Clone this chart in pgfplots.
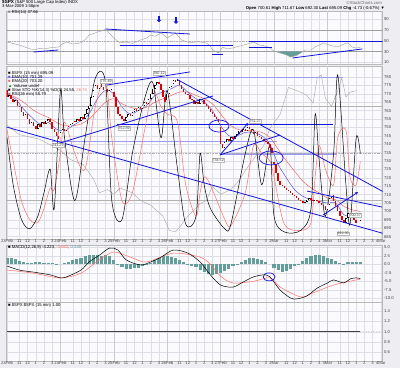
\documentclass[border=0pt]{standalone}
\usepackage{pgfplots}
\pgfplotsset{compat=1.18}
\usepackage{pgfplotstable}
\usepackage{fontspec}
\setmainfont{Liberation Sans}
\usetikzlibrary{arrows.meta}

\definecolor{panelbg}{RGB}{251,251,253}
\definecolor{outerbg}{RGB}{238,238,242}
\definecolor{gridc}{RGB}{222,222,230}
\definecolor{lav}{RGB}{155,155,245}
\definecolor{tblue}{RGB}{20,20,225}
\definecolor{candred}{RGB}{228,0,0}
\definecolor{emablue}{RGB}{90,90,210}
\definecolor{emared}{RGB}{240,100,100}
\definecolor{stored}{RGB}{255,110,110}
\definecolor{teal2}{RGB}{100,158,155}
\definecolor{lblc}{RGB}{70,70,70}

\newcommand{\tf}{\fontsize{4.2}{4.6}\selectfont}
\newcommand{\smf}{\fontsize{3.7}{4}\selectfont}

\pgfplotstableread{
b o c
0 772 768
1 768 769
2 769 767
3 767 765
4 765 766
5 766 763
6 763 762
7 762 759
8 759 757
9 757 758
10 758 755
11 755 752
12 752 753
13 753 751
14 751 749
15 749 752
16 752 750
17 750 753
18 753 752
19 752 754
20 754 755
21 755 753
22 753 749
23 749 747
24 747 745
25 745 743
26 744 747
27 747 749
28 749 748
29 748 751
30 751 750
31 750 752
32 752 754
33 754 753
34 753 755
35 755 754
36 754 756
37 756 755
38 755 758
39 758 761
40 761 763
41 763 768
42 768 772
43 772 775
44 775 773
45 773 776
46 776 774
47 774 772
48 772 773
49 773 771
50 771 772
51 772 773
52 771 768
53 768 762
54 762 758
55 758 757
56 757 755
57 755 754
58 754 756
59 756 758
60 758 757
61 757 759
62 759 761
63 761 760
64 760 762
65 762 761
66 761 763
67 763 765
68 765 764
69 764 767
70 767 770
71 770 773
72 773 775
73 775 777
74 777 776
75 776 772
76 772 768
77 768 765
78 766 770
79 770 774
80 774 776
81 776 778
82 778 777
83 777 778
84 778 775
85 775 773
86 773 771
87 771 770
88 770 769
89 769 767
90 767 766
91 766 764
92 764 765
93 765 764
94 764 767
95 767 766
96 766 764
97 764 763
98 763 761
99 761 759
100 759 758
101 758 756
102 756 755
103 755 753
104 750 740
105 740 738
106 738 741
107 741 743
108 743 742
109 742 744
110 744 743
111 743 745
112 745 746
113 746 748
114 748 747
115 747 749
116 749 748
117 748 750
118 750 749
119 749 747
120 747 746
121 746 747
122 747 745
123 745 744
124 744 743
125 743 742
126 742 741
127 741 740
128 740 738
129 738 735
130 729.5 728
131 728 723
132 723 718
133 718 716
134 716 715
135 715 714
136 714 713
137 713 712
138 712 711
139 711 710
140 710 709
141 709 708
142 708 707
143 707 706
144 706 705
145 705 705.5
146 705.5 707
147 707 708
148 708 707
149 707 706
150 706 707
151 707 706
152 706 705
153 705 704
154 704 703
155 703 701
156 700.8 704
157 704 708
158 708 710
159 710 706
160 706 703
161 703 700
162 700 697
163 697 695
164 695 693
165 693 696
166 696 699
167 699 698
168 698 697
169 697 695
170 695 693
171 693 694
172 694 695
}\price

\pgfplotstableread{
b v
0 769
4 767
8 761
12 756
16 752
20 753
24 749
28 748
32 751
36 754
40 758
44 767
48 772
52 770
56 762
60 758
64 760
68 763
72 769
76 771
80 773
84 775
88 771
92 767
96 765
100 760
104 751
108 745
112 745
116 747
120 747
124 745
128 740
132 728
136 720
140 713
144 709
148 707
152 706
156 705
160 705
164 698
168 697
172 697
}\emaA

\pgfplotstableread{
b v
0 770
4 768
8 765
12 761
16 758
20 756
24 753
28 751
32 751
36 752
40 755
44 760
48 765
52 767
56 764
60 762
64 761
68 762
72 765
76 767
80 769
84 771
88 771
92 769
96 767
100 764
104 758
108 752
112 749
116 748
120 748
124 747
128 744
132 737
136 730
140 724
144 718
148 714
152 711
156 708
160 707
164 703
168 701
172 700
}\emaB

\pgfplotstableread{
b v
0 60
3 30
7 8
11 2
15 10
18 25
21 40
23 15
26 90
28 60
33 20
38 60
43 98
48 95
51 20
56 8
61 50
67 85
71 95
75 60
78 90
83 40
87 5
92 10
94 50
96 30
99 15
106 2
109 5
116 50
120 65
124 30
128 55
130 10
135 0
143 1
148 15
150 75
152 45
155 10
159 50
161 100
165 30
167 5
170 60
172 50
}\stok

\pgfplotstableread{
b v
0 65
3 45
7 20
11 8
15 6
18 15
21 28
23 27
26 50
28 70
33 50
38 40
43 80
48 97
51 60
56 20
61 25
67 65
71 90
75 80
78 75
83 70
87 30
92 10
94 25
96 35
99 30
106 8
109 4
116 25
120 55
124 50
128 45
130 35
135 5
143 1
148 6
150 35
152 55
155 40
159 30
161 60
165 65
167 35
170 30
172 45
}\stod

\pgfplotstableread{
b v
0 68
6 62
16 59
26 52
31 46
37 43
42 34
45 25
49 27
52 24
55 28
61 25
65 20
70 17
76 10
79 1
82 0
84 3
88 10
91 14
94 18
97 20
100 29
104 24
109 27
113 33
118 43
125 55
128 66
133 75
137 92
143 89
146 87
149 82
151 98
153 100
155 85
158 80
161 90
163 98
165 86
167 89
170 90
}\grayl

\pgfplotstableread{
b v
0 47.7
3 45
6 42
9 38
13 33
16 36
18 35
21 37
25 38.5
27 44
29 47.7
32 44
36 46
38 52
40 60.6
42 63
44 66
46 68
48 71.6
50 63
52 55
54 49
55 46
58 47.7
61 45
65 51.4
68 55
70 60.6
72 58
75 64
77 59
78 55
80 60
82 64
84 56
85 51.4
87 49
89 46
92 48
94 47.7
97 46
99 40
100 33
103 27.5
105 38.5
107 35
110 36.7
113 40
115 42
118 45
120 47.7
123 42
126 40
128 36.7
130 31
133 27.5
136 24
138 20
141 23
143 27.5
145 33
148 33
150 38.5
152 42
154 46
157 42
159 40
161 38.5
164 44
166 46
168 38.5
170 36.7
172 37.7
}\rsi

\pgfplotstableread{
b v
0 -0.5
6 -1.7
13 -2.3
21 -3.1
26 -4.0
29 -3.7
36 -1.7
40 0.7
45 2.7
50 4.8
54 4.2
58 1.3
65 -0.2
70 0.7
75 2.1
81 4.2
88 3.3
94 0.7
99 -3.1
104 -6.1
110 -6.7
115 -5.2
120 -3.7
125 -3.1
128 -3.7
133 -7.6
138 -9.9
141 -10.2
146 -9.3
151 -7.0
156 -5.5
159 -4.6
164 -5.5
167 -4.3
170 -4.0
172 -4.2
}\macdk

\pgfplotstableread{
b v
0 -1.7
13 -2.6
26 -4.0
36 -2.6
45 1.3
52 3.6
61 1.9
68 0.7
81 3.3
94 2.1
99 0.0
104 -3.5
110 -5.5
120 -5.0
128 -4.0
133 -6.7
143 -9.6
149 -8.4
159 -6.1
170 -4.6
172 -4.56
}\macds

\pgfplotstableread{
b v
0 2.0
2 1.8
4 1.5
6 1.0
8 0.6
10 0.5
12 0.5
14 0.6
16 0.6
18 0.5
20 0.5
22 0.3
24 0.1
26 0.0
28 0.3
30 0.8
32 1.2
34 1.6
36 2.0
38 2.4
40 2.7
42 2.8
44 2.6
46 2.5
48 2.7
50 2.4
52 1.2
54 0.2
56 -0.8
58 -1.3
60 -1.4
62 -1.2
64 -1.0
66 -0.6
68 -0.1
70 0.5
72 1.2
74 1.8
76 2.3
78 2.5
80 2.2
82 1.8
84 1.2
86 0.7
88 0.2
90 -0.4
92 -0.9
94 -1.6
96 -2.3
98 -2.8
100 -3.0
102 -2.8
104 -2.5
106 -2.0
108 -1.4
110 -0.6
112 0.2
114 0.8
116 1.4
118 1.8
120 1.9
122 1.7
124 1.4
126 0.8
128 0.0
130 -1.0
132 -1.8
134 -2.2
136 -2.0
138 -1.4
140 -0.6
142 0.2
144 1.0
146 1.8
148 2.4
150 2.6
152 2.6
154 2.4
156 2.0
158 1.6
160 1.0
162 0.4
164 0.2
166 0.6
168 0.8
170 0.8
172 0.6
}\macdh

\pgfplotsset{
  base/.style={scale only axis, width=376.2pt, anchor=south west,
    xmin=-0.25, xmax=182.9, major tick length=0pt, tick style={draw=none}},
  frame/.style={base, axis line style={draw=gray!55, line width=0.4pt},
    xmajorgrids, ymajorgrids, major grid style={draw=gridc, line width=0.3pt},
    xtick={0,6,10,14,18,22,26,32,36,40,44,48,52,58,62,66,70,74,78,84,88,92,96,100,104,110,114,118,122,126,130,136,140,144,148,152,156,162,166,170,174,178,182},
    extra x ticks={26,52,78,104,130,156},
    extra x tick labels={},
    extra x tick style={major grid style={draw=gray!40, line width=0.35pt}},
    xticklabels={},
    yticklabel pos=right,
    yticklabel style={font=\tf, text=lblc, inner sep=1.2pt},
    xticklabel style={font=\tf, text=lblc, inner sep=0.6pt}},
  datelabels/.style={xticklabels={23Feb,11,12,1,2,3,24Feb,11,12,1,2,3,25Feb,11,12,1,2,3,26Feb,11,12,1,2,3,27Feb,11,12,1,2,3,2Mar,11,12,1,2,3,3Mar,11,12,1,2,3,4Mar}},
  ovl/.style={base, axis lines=none, xtick=\empty, ytick=\empty},
}

\begin{document}
\begin{tikzpicture}[x=1pt,y=1pt]
\fill[outerbg] (0,0) rectangle (400,368);
\path[use as bounding box] (0,0) rectangle (400,368);
\fill[panelbg] (6.5,303.5) rectangle (382.7,357);
\fill[panelbg] (6.5,129) rectangle (382.7,302);
\fill[panelbg] (6.5,66) rectangle (382.7,123);
\fill[panelbg] (6.5,7) rectangle (382.7,65.5);

% header
\node[anchor=west, inner sep=0, font=\tf] at (2,365.6) {{\fontsize{4.6}{5}\selectfont\bfseries \$SPX} (S\&P 500 Large Cap Index) INDX};
\node[anchor=west, inner sep=0, font=\tf] at (2,361.4) {3-Mar-2009 1:58pm};
\node[anchor=east, inner sep=0, font=\tf, text=gray!80!black] at (382,365.2) {\textcopyright StockCharts.com};
\node[anchor=east, inner sep=0, font=\tf] at (385,359.4) {\textbf{Open} 700.61 \textbf{High} 711.67 \textbf{Low} 692.30 \textbf{Last} 695.09 \textbf{Chg} -4.73 (-0.67\%) ▼};

% ---------------- RSI panel ----------------
\begin{axis}[frame, at={(6.5pt,303.5pt)}, height=53.5pt, ymin=6.3, ymax=104.7,
  ytick={10,30,50,70,90}, yticklabels={10,30,50,70,90}]
\addplot[gray!75, line width=0.45pt] coordinates {(-1,70)(183,70)};
\addplot[gray!75, line width=0.45pt] coordinates {(-1,30)(183,30)};
\addplot[gray!60, line width=0.35pt, dash pattern=on 2pt off 1pt on 0.5pt off 1pt] coordinates {(-1,50)(183,50)};
\addplot[fill=teal2, draw=none] coordinates {(130.9,30)(133,27.5)(136,24)(138,20)(141,23)(143,27.5)(143.9,30)} -- cycle;
\addplot[fill=teal2, draw=none] coordinates {(101.6,30)(103,27.5)(103.5,30)} -- cycle;
\addplot[gray!70, line width=0.45pt] table[x=b,y=v] {\rsi};
\addplot[tblue, line width=0.8pt] coordinates {(13,29.3)(25,33)};
\addplot[tblue, line width=0.8pt] coordinates {(48,71.6)(89,62.4)};
\addplot[tblue, line width=0.8pt] coordinates {(55,42.2)(110,42.2)};
\addplot[tblue, line width=0.8pt] coordinates {(118,49.5)(182.9,49.5)};
\addplot[tblue, line width=0.8pt] coordinates {(118,38.5)(129,38.5)};
\addplot[tblue, line width=0.8pt] coordinates {(139,18.3)(173,34.9)};
\addplot[tblue, line width=0.8pt] coordinates {(100,25.7)(105,25.7)};
\addplot[tblue, line width=1.4pt, -{Triangle[length=2.4pt,width=4.5pt]}] coordinates {(74,96)(74,84)};
\addplot[tblue, line width=1.4pt, -{Triangle[length=2.4pt,width=4.5pt]}] coordinates {(82.3,93)(82.3,81)};
\end{axis}
\node[anchor=west, inner sep=0, font=\tf] at (8,355.8) {{\color{gray}■} RSI(14) 37.66};

% ---------------- Main panel: grid, ticks, levels, EMAs ----------------
\begin{axis}[frame, datelabels, at={(6.5pt,129pt)}, height=173pt, ymin=683.6, ymax=786.5,
  ytick={685,690,...,780}, /pgf/number format/assume math mode=true]
\addplot[lav, line width=1.4pt] coordinates {(0,779.7)(163.6,779.7)};
\addplot[lav, line width=1.2pt] coordinates {(21.9,741.5)(131.5,741.5)};
\addplot[lav, line width=1.2pt] coordinates {(103.7,734.2)(160.7,734.2)};
\addplot[tblue, line width=0.7pt] coordinates {(53.6,751.8)(158.8,751.8)};
\addplot[emared, line width=0.5pt, smooth] table[x=b,y=v] {\emaB};
\addplot[emablue, line width=0.5pt, smooth] table[x=b,y=v] {\emaA};
\end{axis}

% ---------------- Main panel: stochastic overlay ----------------
\begin{axis}[ovl, at={(6.5pt,129pt)}, height=173pt, ymin=-4.5, ymax=105.7]
\addplot[gray!60, line width=0.45pt] coordinates {(-1,80)(183,80)};
\addplot[gray!60, line width=0.45pt] coordinates {(-1,20)(183,20)};
\addplot[gray!60, line width=0.35pt, dash pattern=on 2pt off 1pt on 0.5pt off 1pt] coordinates {(-1,50)(183,50)};
\addplot[gray!65, line width=0.45pt] table[x=b,y=v] {\grayl};
\addplot[stored, line width=0.5pt, smooth, tension=0.5] table[x=b,y=v] {\stod};
\addplot[black, line width=0.5pt, smooth, tension=0.5] table[x=b,y=v] {\stok};
\end{axis}

% ---------------- Main panel: candles and annotations ----------------
\begin{axis}[ovl, at={(6.5pt,129pt)}, height=173pt, ymin=683.6, ymax=786.5]
\addplot[candred, line width=1.5pt, quiver={u=0, v={min(\thisrow{c}-\thisrow{o},0)}}] table[x=b,y=o] {\price};
\addplot[black, line width=1.5pt, quiver={u=0, v={max(\thisrow{c}-\thisrow{o},0)}}] table[x=b,y=o] {\price};
\addplot[white, line width=0.5pt, quiver={u=0, v={max(\thisrow{c}-\thisrow{o}-0.9,0)}}] table[x=b,y expr=\thisrow{o}+0.45] {\price};
% trend lines
\addplot[tblue, line width=0.8pt] coordinates {(-0.25,750.2)(182.9,687.0)};
\addplot[tblue, line width=0.8pt] coordinates {(25.8,740.7)(100.3,768.7)};
\addplot[tblue, line width=0.8pt] coordinates {(48.7,775.2)(89.1,783.0)};
\addplot[tblue, line width=0.8pt] coordinates {(82.8,778.5)(182.9,711.9)};
\addplot[tblue, line width=0.8pt] coordinates {(146.1,712.1)(182.6,702.6)};
\addplot[tblue, line width=0.8pt, -{Stealth[length=3pt,width=3pt]}] coordinates {(153.9,697.9)(170.9,711.5)};
\addplot[tblue, line width=0.8pt, -{Stealth[length=3pt,width=3pt]}] coordinates {(103.7,733.6)(117.4,752.6)};
\addplot[tblue, line width=0.8pt] coordinates {(103.7,733.6)(133,745.5)};
\draw[tblue, line width=0.7pt] (axis cs:103.2,750.8) ellipse [x radius=10pt, y radius=6pt];
\draw[tblue, line width=0.7pt] (axis cs:128.6,731.8) ellipse [x radius=12pt, y radius=7pt];
% value labels
\tikzset{vl/.style={draw=gray!55, fill=white, font=\smf, text=gray!50!black, inner sep=0.5pt}}
\node[vl] at (axis cs:24.8,739.5) {743.29};
\node[vl] at (axis cs:48.2,777.6) {775.49};
\node[vl] at (axis cs:74,782.4) {780.12};
\node[vl] at (axis cs:57,749.6) {752.89};
\node[vl] at (axis cs:102.8,730.6) {734.52};
\node[vl] at (axis cs:120.8,753.5) {751.27};
\node[vl] at (axis cs:169.5,697.9) {700.37};
\node[vl] at (axis cs:163.6,686.8) {692.30};
\end{axis}
\node[anchor=west, inner sep=0, font=\tf, align=left] at (8,294.7) {■ \$SPX (15 min) 695.09};
\node[anchor=west, inner sep=0, font=\tf] at (8,290.7) {{\color{emablue}■} EMA(10) 701.29};
\node[anchor=west, inner sep=0, font=\tf] at (8,286.3) {{\color{emared}■} EMA(20) 703.20};
\node[anchor=west, inner sep=0, font=\tf] at (8,282.0) {{\color{green!60!black}▲} Volume undef};
\node[anchor=west, inner sep=0, font=\tf] at (8,278.0) {■ Slow STO \%K(14,3) \%D(3) 24.55, {\color{stored}26.74}};
\node[anchor=west, inner sep=0, font=\tf] at (8,273.7) {{\color{gray}■} RSI(26 min) 55.79};

% ---------------- MACD panel ----------------
\begin{axis}[frame, at={(6.5pt,66pt)}, height=57pt, ymin=-11.09, ymax=5.68,
  ytick={-10,-7.5,-5,-2.5,0,2.5,5}, yticklabels={-10.0,-7.5,-5.0,-2.5,0.0,2.5,5.0}]
\addplot[ycomb, teal2, line width=3.1pt] table[x=b,y=v] {\macdh};
\addplot[stored, line width=0.5pt, smooth] table[x=b,y=v] {\macds};
\addplot[black, line width=0.5pt, smooth] table[x=b,y=v] {\macdk};
\draw[tblue, line width=0.7pt] (axis cs:127.6,-3.7) ellipse [x radius=6pt, y radius=4pt];
\end{axis}
\node[anchor=west, inner sep=0, font=\tf] at (8,120.2) {■ MACD(12,26,9) -4.223, {\color{stored}-4.562}, {\color{teal2}0.349}};

% ---------------- Ratio panel ----------------
\begin{axis}[frame, datelabels, at={(6.5pt,7pt)}, height=58.5pt, ymin=0.4365, ymax=1.5615,
  ytick={0.6,0.8,1.0,1.2,1.4}, yticklabels={0.6,0.8,1.0,1.2,1.4}]
\addplot[gray!50!black, line width=0.6pt] coordinates {(0,1)(172,1)};
\addplot[gray!35, line width=0.6pt, dotted] coordinates {(172,1)(182.9,1)};
\end{axis}
\node[anchor=west, inner sep=0, font=\tf] at (8,62.5) {■ \$SPX:\$SPX (15 min) 1.00};
\end{tikzpicture}
\end{document}
